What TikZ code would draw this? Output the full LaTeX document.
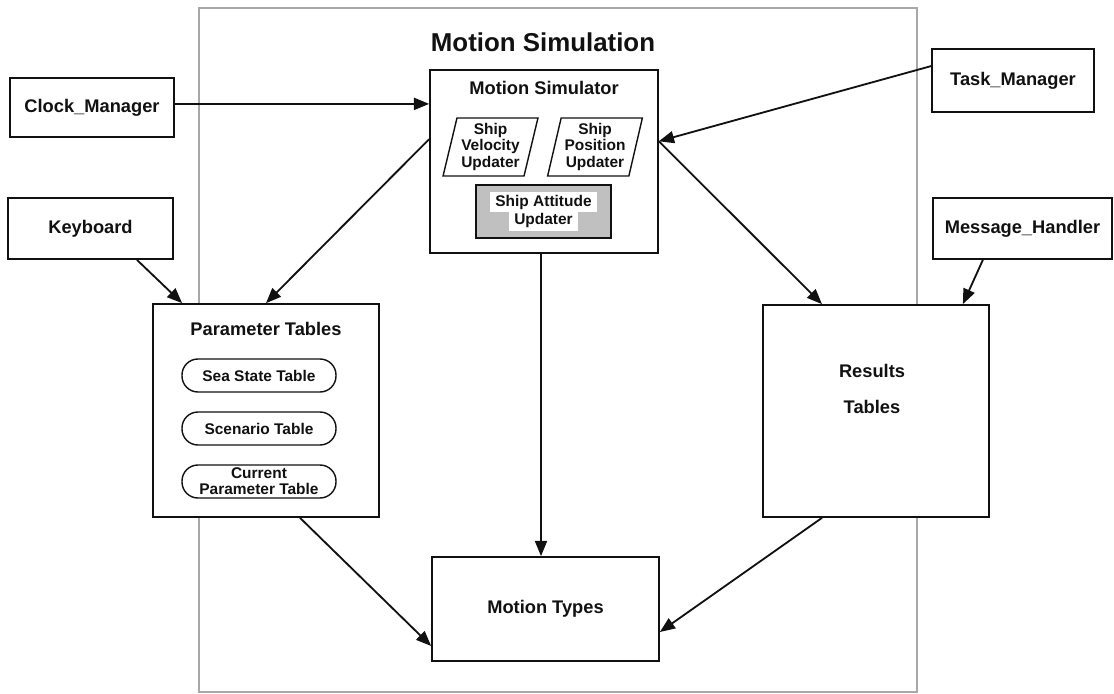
\documentclass[tikz,border=0pt]{standalone}
\usepackage{fontspec}
\setmainfont{Liberation Sans}
\usepackage{tikz}
\usetikzlibrary{arrows.meta,positioning,calc,shapes.geometric}
\definecolor{ink}{HTML}{111111}
\definecolor{frame}{HTML}{A8A8A8}
\definecolor{shade}{HTML}{C0C0C0}
\tikzset{arr/.style={-{Triangle[length=3.8mm,width=3mm]},line width=1.3pt,draw=ink},
  box/.style={draw=ink,line width=1.2pt,fill=white,align=center,inner sep=2pt,font=\fontsize{13}{15}\selectfont\bfseries,text=ink},
  small/.style={align=center,inner sep=1pt,font=\fontsize{11}{11.4}\selectfont\bfseries,text=ink},
  slanted/.style={small,draw=ink,line width=1pt,shape=trapezium,trapezium left angle=75.5,trapezium right angle=104.5,
    trapezium stretches=true,minimum width=2.375cm,minimum height=1.45cm},
  tablebox/.style={small,draw=ink,line width=1pt,rounded corners=4mm,minimum width=3.85cm,minimum height=0.825cm}}

\begin{document}
\begin{tikzpicture}
\useasboundingbox (0,0) rectangle (27.85,-17.35);
\draw[frame,line width=1.8pt] (4.975,-0.2) rectangle (22.925,-17.3);
\node[font=\fontsize{18.4}{21}\selectfont\bfseries,text=ink] (systitle) at (13.575,-1.05) {Motion Simulation};
% outside the system
\node[box,minimum width=4.1cm,minimum height=1.475cm] (clock) at (2.3,-2.6875) {Clock\_Manager};
\node[box,minimum width=4.125cm,minimum height=1.525cm] (keyboard) at (2.2625,-5.7125) {Keyboard};
\node[box,minimum width=4.05cm,minimum height=1.575cm] (task) at (25.325,-2.0125) {Task\_Manager};
\node[box,minimum width=4.475cm,minimum height=1.525cm] (msg) at (25.5625,-5.7125) {Message\_Handler};
% simulator
\node[box,minimum width=5.7cm,minimum height=4.575cm] (sim) at (13.6,-4.0375) {};
\node[box,draw=none,fill=none] (simtitle) at (13.6,-2.2) {Motion Simulator};
\node[slanted] (vel) at (12.2625,-3.675) {Ship\\Velocity\\Updater};
\node[slanted] (pos) at (14.875,-3.675) {Ship\\Position\\Updater};
\node[small,draw=ink,line width=1pt,fill=shade,minimum width=3.375cm,minimum height=1.325cm,inner sep=0pt] (att) at (13.5875,-5.2875)
  {\setlength\fboxsep{2pt}\colorbox{white}{\,Ship Attitude\,}\\[-2pt]\setlength\fboxsep{2pt}\colorbox{white}{\,Updater\,}};
% tables
\node[box,minimum width=5.65cm,minimum height=5.325cm] (param) at (6.65,-10.2625) {};
\node[box,draw=none,fill=none] (paramtitle) at (6.65,-8.225) {Parameter Tables};
\node[tablebox] (sea) at (6.475,-9.3875) {Sea State Table};
\node[tablebox] (scen) at (6.475,-10.7125) {Scenario Table};
\node[tablebox] (cur) at (6.475,-12.0375) {Current\\Parameter Table};
\node[box,minimum width=5.65cm,minimum height=5.3cm] (results) at (21.9,-10.275) {};
\node[box,draw=none,fill=none,font=\fontsize{13}{25.5}\selectfont\bfseries] (restext) at (21.8,-9.725) {Results\\Tables};
\node[box,minimum width=5.675cm,minimum height=2.6cm] (types) at (13.6375,-15.225) {Motion Types};
% connectors
\draw[arr] ([yshift=0.09cm]clock.east) -- ([yshift=0.09cm]clock.east -| sim.west);
\draw[arr] (task.170) -- (sim.10);
\draw[arr] (sim.10) -- ([xshift=-1.35cm]results.north);
\draw[arr] (sim.169) -- (param.north);
\draw[arr] ([xshift=1.16cm]keyboard.south) -- ([xshift=0.75cm]param.north west);
\draw[arr] ([xshift=-0.99cm]msg.south) -- ([xshift=-0.675cm]results.north east);
\draw[arr] ([xshift=-0.075cm]sim.south) -- ([xshift=-0.075cm]sim.south |- types.north);
\draw[arr] ([xshift=0.85cm]param.south) -- ([yshift=-0.925cm]types.west);
\draw[arr] ([xshift=-1.35cm]results.south) -- ([yshift=-0.575cm]types.east);
\end{tikzpicture}
\end{document}
